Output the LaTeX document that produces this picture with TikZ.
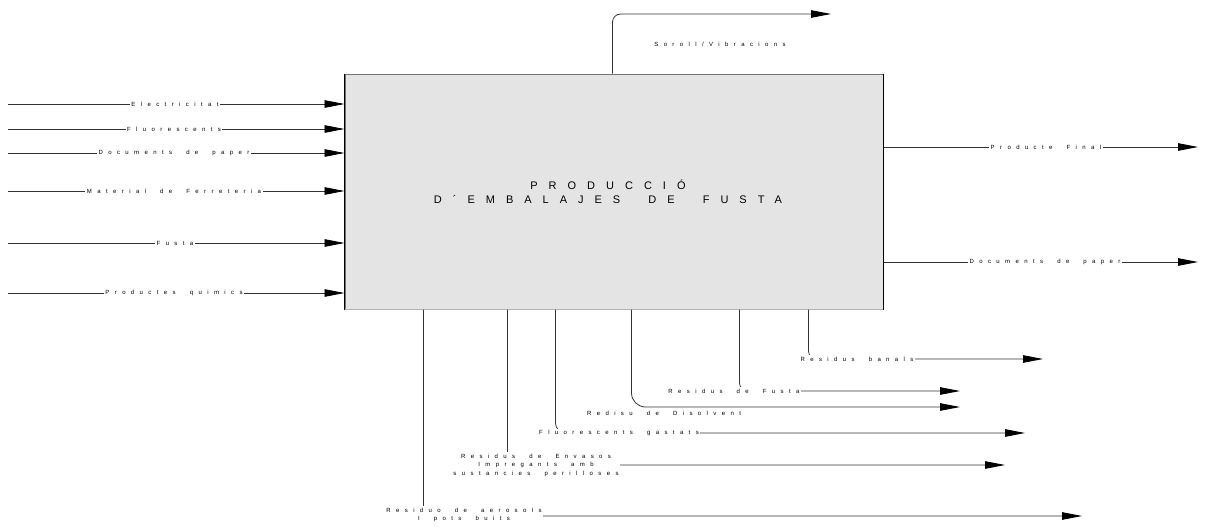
\documentclass[tikz,border=0pt]{standalone}
\usepackage{fontspec}
\newfontfamily\flowfont[LetterSpace=90, WordSpace=2]{Liberation Sans}
\newfontfamily\titlefont[LetterSpace=100, WordSpace=2]{Liberation Sans}
\usetikzlibrary{arrows.meta, calc}
\definecolor{boxgray}{HTML}{E4E4E4}
\tikzset{
  procbox/.style={
    draw=black!55, fill=boxgray, line width=1pt,
    minimum width=538pt, minimum height=235pt, inner sep=0pt,
  },
  arr/.style    ={-{Triangle[length=20pt,width=7.5pt,fill=black,color=black]},
                  line width=0.8pt, black!80},
  flowlbl/.style={fill=white, inner sep=1.5pt, align=center,
                  font=\flowfont\fontsize{6}{8.5}\selectfont},
  freelbl/.style={inner sep=1pt, align=center,
                  font=\flowfont\fontsize{6}{8.5}\selectfont},
  titlelbl/.style={align=center, font=\titlefont\fontsize{11}{14}\selectfont},
}

\begin{document}
\begin{tikzpicture}[x=1pt, y=-1pt]
\useasboundingbox (0,0) rectangle (1209,527);

%% ════════════════════════════════════════════════════════════
%%  PROCESS BOX
%% ════════════════════════════════════════════════════════════
\node[procbox] (box) at (614,191.5) {};
\draw[line width=1.8pt, black!30] (box.south west) -- (box.south east);
\draw[line width=1.6pt, black] (box.north west) -- (box.south west);
\draw[line width=1.6pt, black] (box.north east) -- (box.south east);
\node[titlelbl, xshift=-6pt] (title) at (box.center)
  {PRODUCCIÓ\\D´EMBALAJES DE FUSTA};

%% ════════════════════════════════════════════════════════════
%%  INPUTS — left side
%% ════════════════════════════════════════════════════════════
\coordinate (elec) at (8,104);
\coordinate (fluo) at (8,129);
\coordinate (docin) at (8,153);
\coordinate (ferr) at (8,191);
\coordinate (fusta) at (8,243);
\coordinate (quim) at (8,293);

\draw[arr] (elec)  -- (elec  -| box.west);
\draw[arr] (fluo)  -- (fluo  -| box.west);
\draw[arr] (docin) -- (docin -| box.west);
\draw[arr] (ferr)  -- (ferr  -| box.west);
\draw[arr] (fusta) -- (fusta -| box.west);
\draw[arr] (quim)  -- (quim  -| box.west);

\node[flowlbl] (lelec)  at (175,104) {Electricitat};
\node[flowlbl] (lfluo)  at (174,129) {Fluorescents};
\node[flowlbl] (ldocin) at (174,153) {Documents de paper};
\node[flowlbl] (lferr)  at (174,191) {Material de Ferreteria};
\node[flowlbl] (lfusta) at (175,243) {Fusta};
\node[flowlbl] (lquim)  at (174,293) {Productes quimics};

%% ════════════════════════════════════════════════════════════
%%  OUTPUTS — right side and top
%% ════════════════════════════════════════════════════════════
\coordinate (finalend) at (1198,147);
\coordinate (docend)   at (1198,262);
\draw[arr] (finalend -| box.east) -- (finalend);
\draw[arr] (docend -| box.east) -- (docend);
\node[flowlbl] (lfinal)  at (1046,147) {Producte Final};
\node[flowlbl] (ldocout) at (1045,262) {Documents de paper};

% noise goes out over the top
\coordinate (sorollend) at (831,14);
\draw[arr, rounded corners=8pt]
  ([xshift=268pt]box.north west) |- (sorollend);
\node[freelbl] (lsoroll) at (720,44) {Soroll/Vibracions};

%% ════════════════════════════════════════════════════════════
%%  WASTE — bottom side
%% ════════════════════════════════════════════════════════════
\coordinate (aerend)  at (1082,516);
\coordinate (envend)  at (1005,465);
\coordinate (fgasend) at (1025,433);
\coordinate (disend)  at (960,407);
\coordinate (wfusend) at (960,391);
\coordinate (banend)  at (1043,359);

\draw[arr, rounded corners=8pt]  ([xshift=79pt]box.south west)  |- (aerend);
\draw[arr, rounded corners=8pt]  ([xshift=163pt]box.south west) |- (envend);
\draw[arr, rounded corners=10pt] ([xshift=211pt]box.south west) |- (fgasend);
\draw[arr, rounded corners=14pt] ([xshift=287pt]box.south west) |- (disend);
\draw[arr, rounded corners=8pt]  ([xshift=395pt]box.south west) |- (wfusend);
\draw[arr, rounded corners=8pt]  ([xshift=464pt]box.south west) |- (banend);

\node[flowlbl] (laer)  at (464,515) {Residuo de aerosols\\I pots buits};
\node[flowlbl] (lenv)  at (536,465)
  {Residus de Envasos\\Impregants amb\\sustancies perilloses};
\node[flowlbl] (lfgas) at (619,433) {Fluorescents gastats};
\node[freelbl] (ldis)  at (664,413) {Redisu de Disolvent};
\node[flowlbl] (lwfus) at (734,391) {Residus de Fusta};
\node[flowlbl] (lban)  at (857,359) {Residus banals};

\end{tikzpicture}
\end{document}
